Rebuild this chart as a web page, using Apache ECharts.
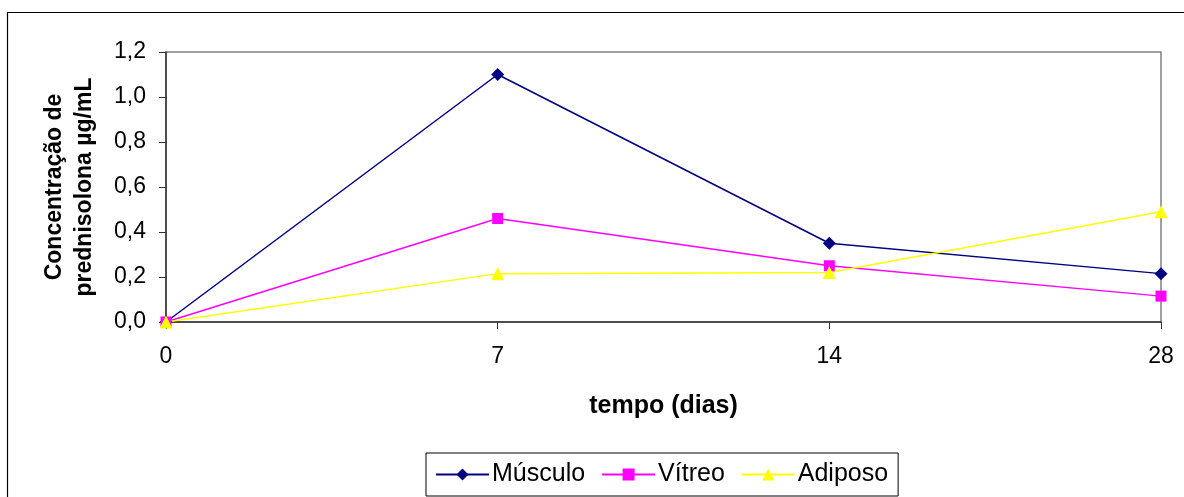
<!DOCTYPE html>
<html>
<head>
<meta charset="utf-8">
<script src="https://cdn.jsdelivr.net/npm/echarts@6/dist/echarts.min.js"></script>
<style>
  html, body { margin: 0; padding: 0; background: #fff; }
  #main { width: 1184px; height: 497px; }
</style>
</head>
<body>
<div id="main"></div>
<script>
// dias
var dias = ['0', '7', '14', '28']
// concentração (µg/mL)
var musculo = [0.0, 1.10, 0.35, 0.215]
var vitreo = [0.0, 0.46, 0.25, 0.115]
var adiposo = [0.0, 0.215, 0.22, 0.49]

var fonte = '"Liberation Sans", Arial, sans-serif'

var myChart = echarts.init(document.getElementById('main'))
var option = {
  backgroundColor: '#fff',
  animation: false,
  textStyle: { fontFamily: fonte, color: '#000' },
  graphic: [
    {
      // moldura externa
      type: 'rect',
      shape: { x: 7.5, y: 12.5, width: 1200, height: 520 },
      style: { fill: 'none', stroke: '#000', lineWidth: 1.2 },
      silent: true
    }
  ],
  grid: {
    left: 166,
    right: 23,
    top: 52,
    bottom: 175,
    show: true,
    borderColor: '#808080',
    borderWidth: 1.5,
    backgroundColor: 'transparent'
  },
  legend: {
    bottom: 1,
    left: 426,
    itemWidth: 53,
    itemHeight: 15,
    itemGap: 16,
    padding: [9, 10, 9, 9],
    borderColor: '#000',
    borderWidth: 1,
    textStyle: { fontSize: 25, fontFamily: fonte, color: '#000', padding: [0, 0, 0, -2] },
    data: ['Músculo', 'Vítreo', 'Adiposo']
  },
  xAxis: {
    type: 'category',
    data: dias,
    boundaryGap: false,
    name: 'tempo (dias)',
    nameLocation: 'middle',
    nameGap: 72,
    nameTextStyle: { fontSize: 25, fontWeight: 'bold', fontFamily: fonte, color: '#000' },
    axisLine: { lineStyle: { color: '#333', width: 1.5 } },
    axisTick: { show: true, length: 7, inside: false, lineStyle: { color: '#333' } },
    axisLabel: { fontSize: 23, fontFamily: fonte, color: '#000', margin: 23 },
    splitLine: { show: false }
  },
  yAxis: {
    type: 'value',
    min: 0,
    max: 1.2,
    interval: 0.2,
    name: 'Concentração de\nprednisolona µg/mL',
    nameLocation: 'middle',
    nameRotate: 90,
    nameGap: 66,
    nameTextStyle: { fontSize: 23, fontWeight: 'bold', fontFamily: fonte, color: '#000', lineHeight: 30 },
    axisLine: { show: true, lineStyle: { color: '#333', width: 1.5 } },
    axisTick: { show: true, length: 7, lineStyle: { color: '#333' } },
    axisLabel: {
      fontSize: 23,
      fontFamily: fonte,
      color: '#000',
      margin: 20,
      formatter: function (v) { return v.toFixed(1).replace('.', ',') }
    },
    splitLine: { show: false }
  },
  series: [
    {
      name: 'Músculo',
      type: 'line',
      data: musculo,
      symbol: 'diamond',
      symbolSize: 13,
      showAllSymbol: true,
      itemStyle: { color: '#000080' },
      lineStyle: { color: '#000080', width: 1.5 }
    },
    {
      name: 'Vítreo',
      type: 'line',
      data: vitreo,
      symbol: 'rect',
      symbolSize: 11,
      showAllSymbol: true,
      itemStyle: { color: '#FF00FF' },
      lineStyle: { color: '#FF00FF', width: 1.5 }
    },
    {
      name: 'Adiposo',
      type: 'line',
      data: adiposo,
      symbol: 'triangle',
      symbolSize: 13,
      showAllSymbol: true,
      itemStyle: { color: '#FFFF00' },
      lineStyle: { color: '#FFFF00', width: 1.5 }
    }
  ]
}
myChart.setOption(option)
</script>
</body>
</html>
